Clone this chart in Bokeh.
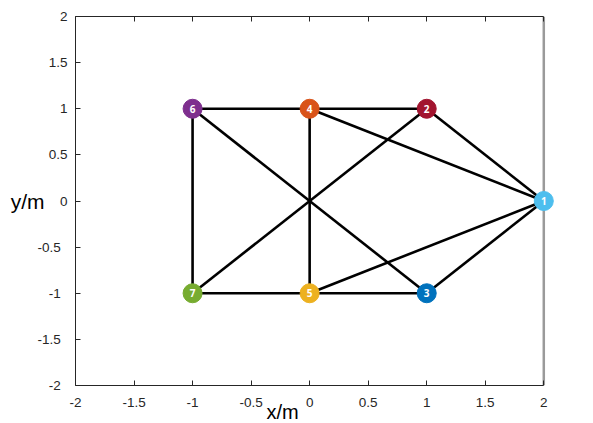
from bokeh.plotting import figure
from bokeh.models import LinearAxis, Range1d, FixedTicker, ColumnDataSource, Span, Title
from bokeh.core.properties import value
from bokeh.embed import file_html
from bokeh.resources import INLINE

# Node data
node_ids = ["1", "2", "3", "4", "5", "6", "7"]
node_x = [2, 1, 1, 0, 0, -1, -1]
node_y = [0, 1, -1, 1, -1, 1, -1]
node_colors = ["#4DBEEE", "#A2142F", "#0072BD", "#D95319", "#EDB120", "#7E2F8E", "#77AC30"]

# Edges (node number pairs)
edge_from = [6, 4, 2, 4, 6, 6, 4, 7, 7, 5, 5, 3]
edge_to = [4, 2, 1, 1, 7, 3, 5, 2, 5, 3, 1, 1]

ticks = [-2, -1.5, -1, -0.5, 0, 0.5, 1, 1.5, 2]
tick_labels = ["-2", "-1.5", "-1", "-0.5", "0", "0.5", "1", "1.5", "2"]

FONT = "Liberation Sans"
AX = "#262626"

p = figure(width=593, height=423, output_backend="svg", toolbar_location=None,
           x_range=Range1d(-2, 2.1), y_range=Range1d(-2, 2),
           x_axis_location=None, y_axis_location=None,
           min_border_left=75, min_border_right=38, min_border_top=16, min_border_bottom=38)
p.grid.visible = False
p.outline_line_color = None
p.background_fill_color = "white"

def make_axis(show_labels, color, width, standoff=7, pad_negative=False):
    ax = LinearAxis(ticker=FixedTicker(ticks=ticks), bounds=(-2, 2))
    if pad_negative:
        ax.major_label_overrides = {t: (l + "\u2002" if t < 0 else l) for t, l in zip(ticks, tick_labels)}
    else:
        ax.major_label_overrides = {t: l for t, l in zip(ticks, tick_labels)}
    ax.axis_line_color = color
    ax.axis_line_width = width
    ax.major_tick_line_color = color
    ax.major_tick_in = 5
    ax.major_tick_out = 0
    ax.minor_tick_line_color = None
    ax.major_label_text_font = FONT
    ax.major_label_text_font_size = "13.5px"
    ax.major_label_text_color = AX
    ax.major_label_standoff = standoff
    if not show_labels:
        ax.major_label_text_font_size = "0px"
        ax.major_label_text_alpha = 0
        ax.major_label_standoff = 0
    return ax

xb = make_axis(True, AX, 1, standoff=12)
p.add_layout(xb, "below")
p.add_layout(Title(text="x/m", align="left", offset=191, text_font=FONT, text_font_size="20px",
                   text_font_style="normal", text_color="black", standoff=-22), "below")

yl = make_axis(True, AX, 1, standoff=8, pad_negative=True)
yl.axis_label = "y/m"
yl.axis_label_orientation = "horizontal"
yl.axis_label_text_font = FONT
yl.axis_label_text_font_size = "21px"
yl.axis_label_text_font_style = "normal"
yl.axis_label_text_color = "black"
yl.axis_label_standoff = -10
p.add_layout(yl, "left")

p.add_layout(make_axis(False, AX, 1), "above")
border = Span(location=2, dimension="height", line_color="#9a9a9a", line_width=2.5)
border.level = "underlay"
p.add_layout(border)

# edges
xs = [[node_x[a - 1], node_x[b - 1]] for a, b in zip(edge_from, edge_to)]
ys = [[node_y[a - 1], node_y[b - 1]] for a, b in zip(edge_from, edge_to)]
p.multi_line(xs, ys, line_color="black", line_width=2.6)

src = ColumnDataSource(dict(x=node_x, y=node_y, c=node_colors, t=node_ids))
p.scatter("x", "y", source=src, size=19, fill_color="c", line_color="c")
p.text("x", "y", text="t", source=src, text_color="white", text_font=value("Open Sans"),
       text_font_size="10px", text_font_style="bold", text_align="center", text_baseline="middle")

open("out.html", "w").write(file_html(p, INLINE))
